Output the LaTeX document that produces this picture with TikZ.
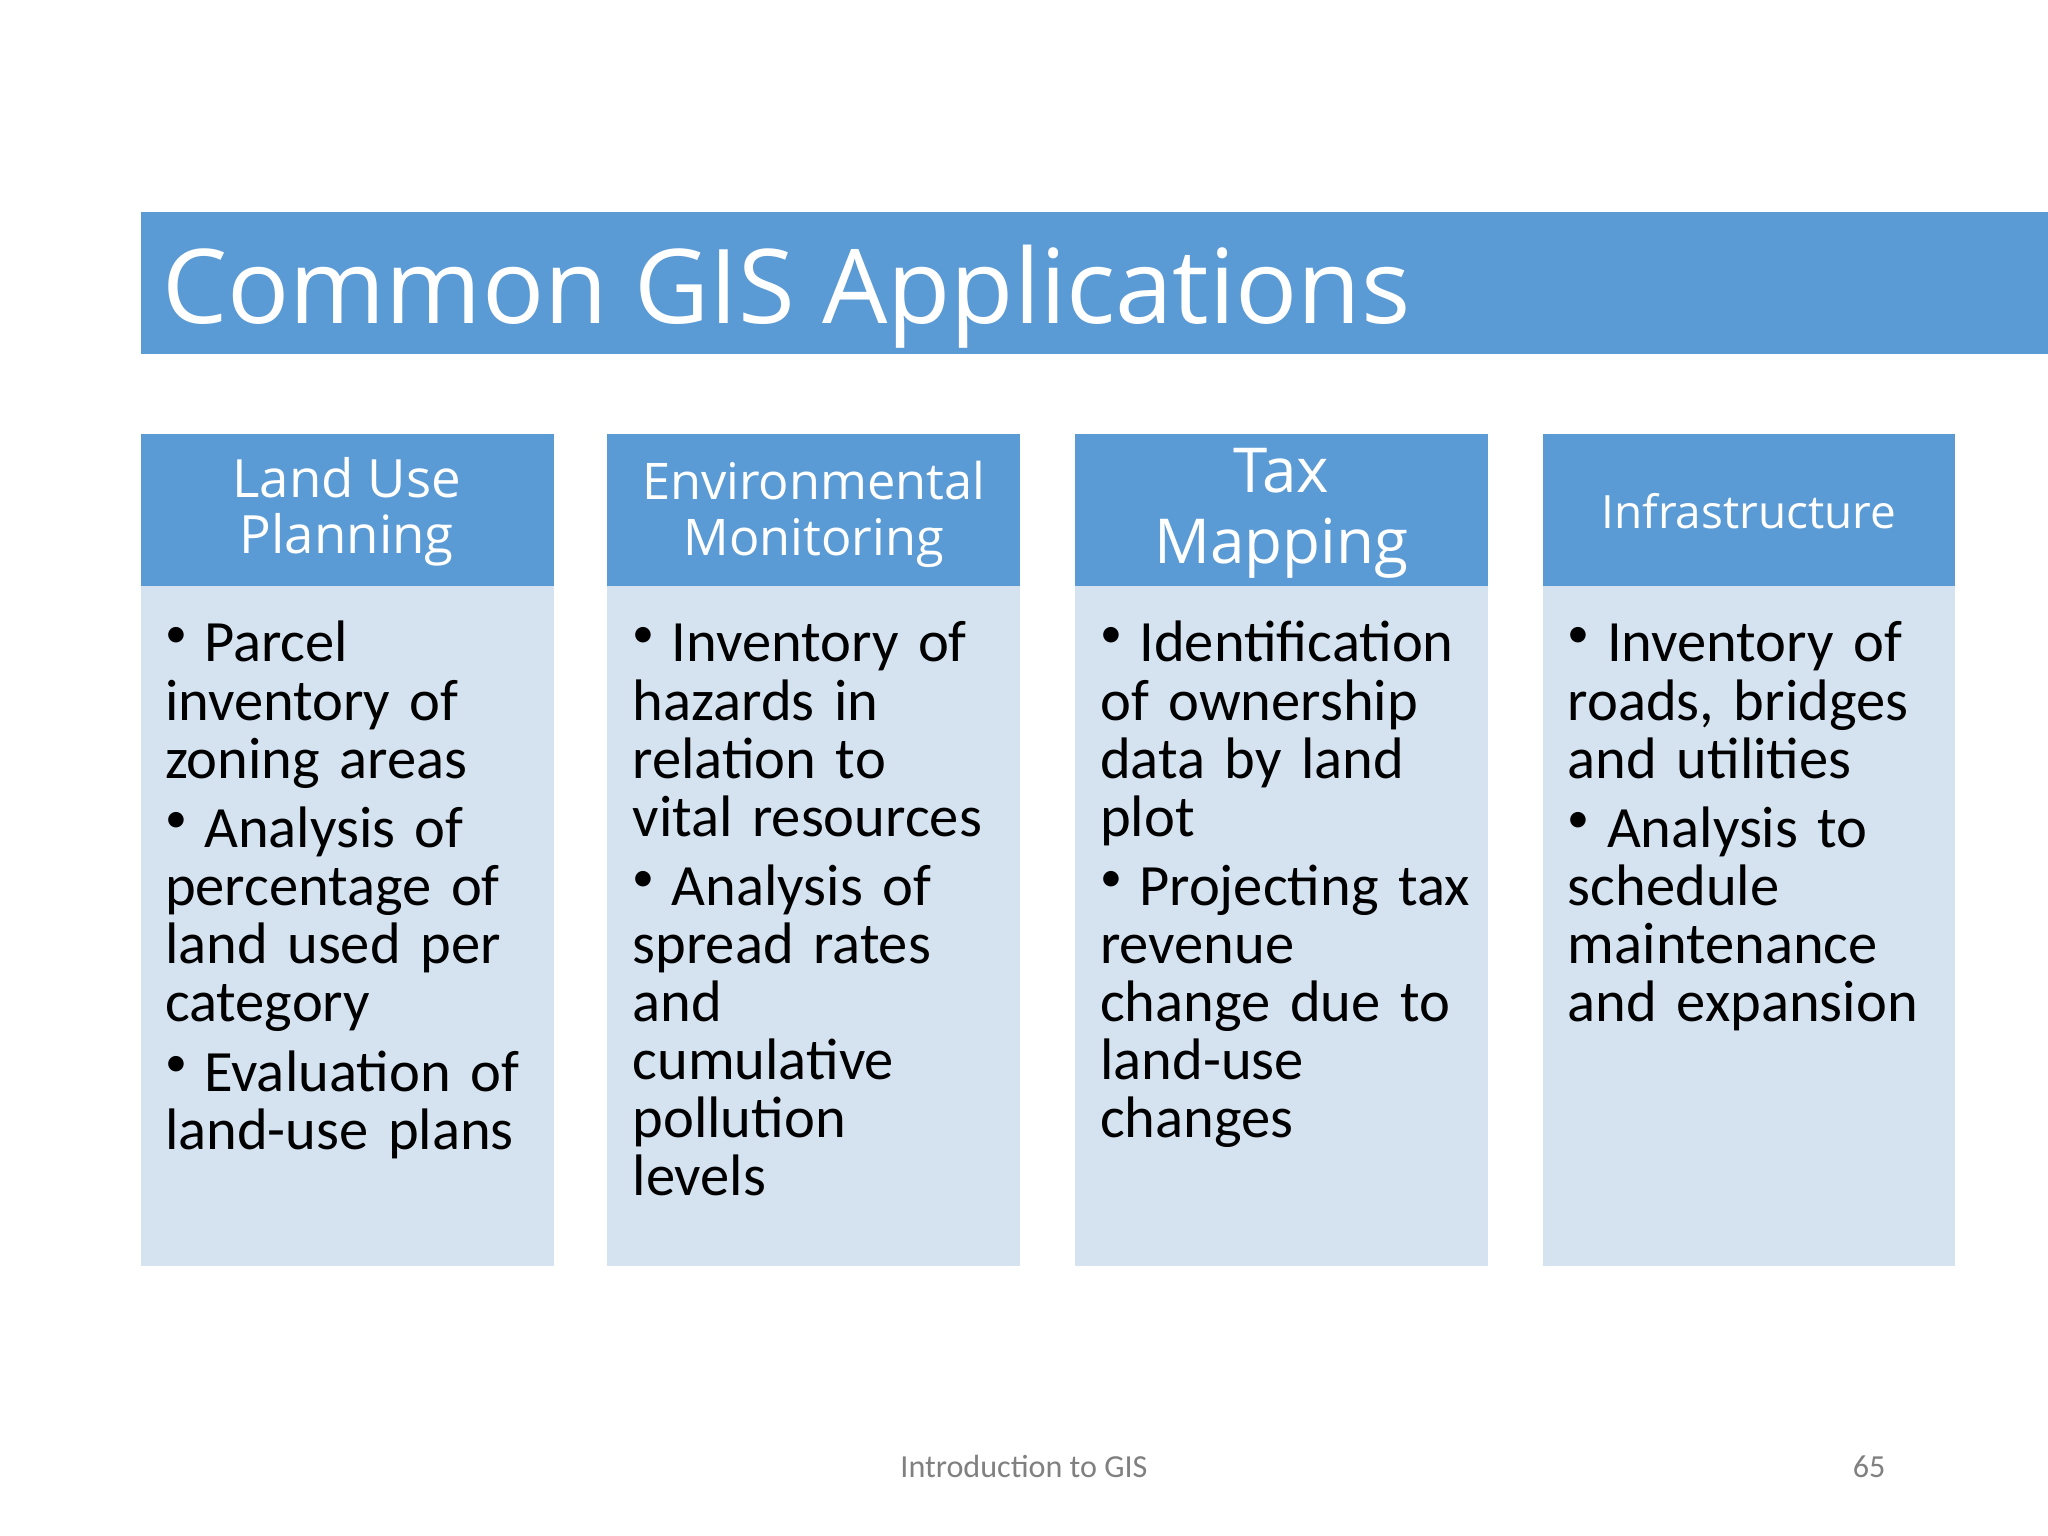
\documentclass[tikz,border=0pt]{standalone}
\usepackage{fontspec}
\setmainfont{Carlito}
\newfontfamily\osans{Open Sans}
\definecolor{hdr}{HTML}{5B9BD5}
\definecolor{bdy}{HTML}{D5E2EF}
\newcommand{\bitem}[1]{\par\noindent\hangindent=0.6cm\hangafter=1\makebox[0.6cm][l]{\raisebox{0.25em}{\scalebox{0.75}{\textbullet}}}#1\par\vspace{5pt}}
\tikzset{
 htext/.style={text=white,align=center,font=\osans\fontsize{23}{24.5}\selectfont},
 btext/.style={anchor=north west,inner sep=0pt,text width=6.2cm,align=left,font=\fontsize{25.5}{25.3}\selectfont}
}
\begin{document}
\begin{tikzpicture}[x=0.02cm,y=-0.02cm]
\useasboundingbox (0,0) rectangle (1568,1176);
\fill[white] (0,0) rectangle (1568,1176);
\fill[hdr] (108,162) rectangle (1568,271);
\node[anchor=base west,inner sep=0pt,text=white,font=\osans\fontsize{45}{45}\selectfont] (title) at (124,248) {Common GIS Applications};
\foreach \x/\n in {108/a,465/b,823/c,1181/d}{
  \fill[hdr] (\x,332) rectangle ++(316,117);
  \fill[bdy] (\x,449) rectangle ++(316,520);
}
\node[htext] (ha) at (265.5,392) {Land Use\\Planning};
\node[htext,font=\osans\fontsize{22}{24.5}\selectfont] (hb) at (623,394) {Environmental\\Monitoring};
\node[htext,font=\osans\fontsize{27}{31}\selectfont] (hc) at (981,393) {Tax\\Mapping};
\node[htext,font=\osans\fontsize{20}{24}\selectfont] (hd) at (1339,391) {Infrastructure};
\node[btext] (ba) at (126,462) {\bitem{Parcel\\inventory of\\zoning areas}\bitem{Analysis of\\percentage of\\land used per\\category}\bitem{Evaluation of\\land-use plans}};
\node[btext] (bb) at (484,462) {\bitem{Inventory of\\hazards in\\relation to\\vital resources}\bitem{Analysis of\\spread rates\\and\\cumulative\\pollution\\levels}};
\node[btext] (bc) at (842,462) {\bitem{Identification\\of ownership\\data by land\\plot}\bitem{Projecting tax\\revenue\\change due to\\land-use\\changes}};
\node[btext] (bd) at (1200,462) {\bitem{Inventory of\\roads, bridges\\and utilities}\bitem{Analysis to\\schedule\\maintenance\\and expansion}};
\node[text=gray,font=\fontsize{14}{14}\selectfont] (ft) at (784,1123) {Introduction to GIS};
\node[text=gray,font=\fontsize{14}{14}\selectfont] (pg) at (1431,1123) {65};
\end{tikzpicture}
\end{document}
